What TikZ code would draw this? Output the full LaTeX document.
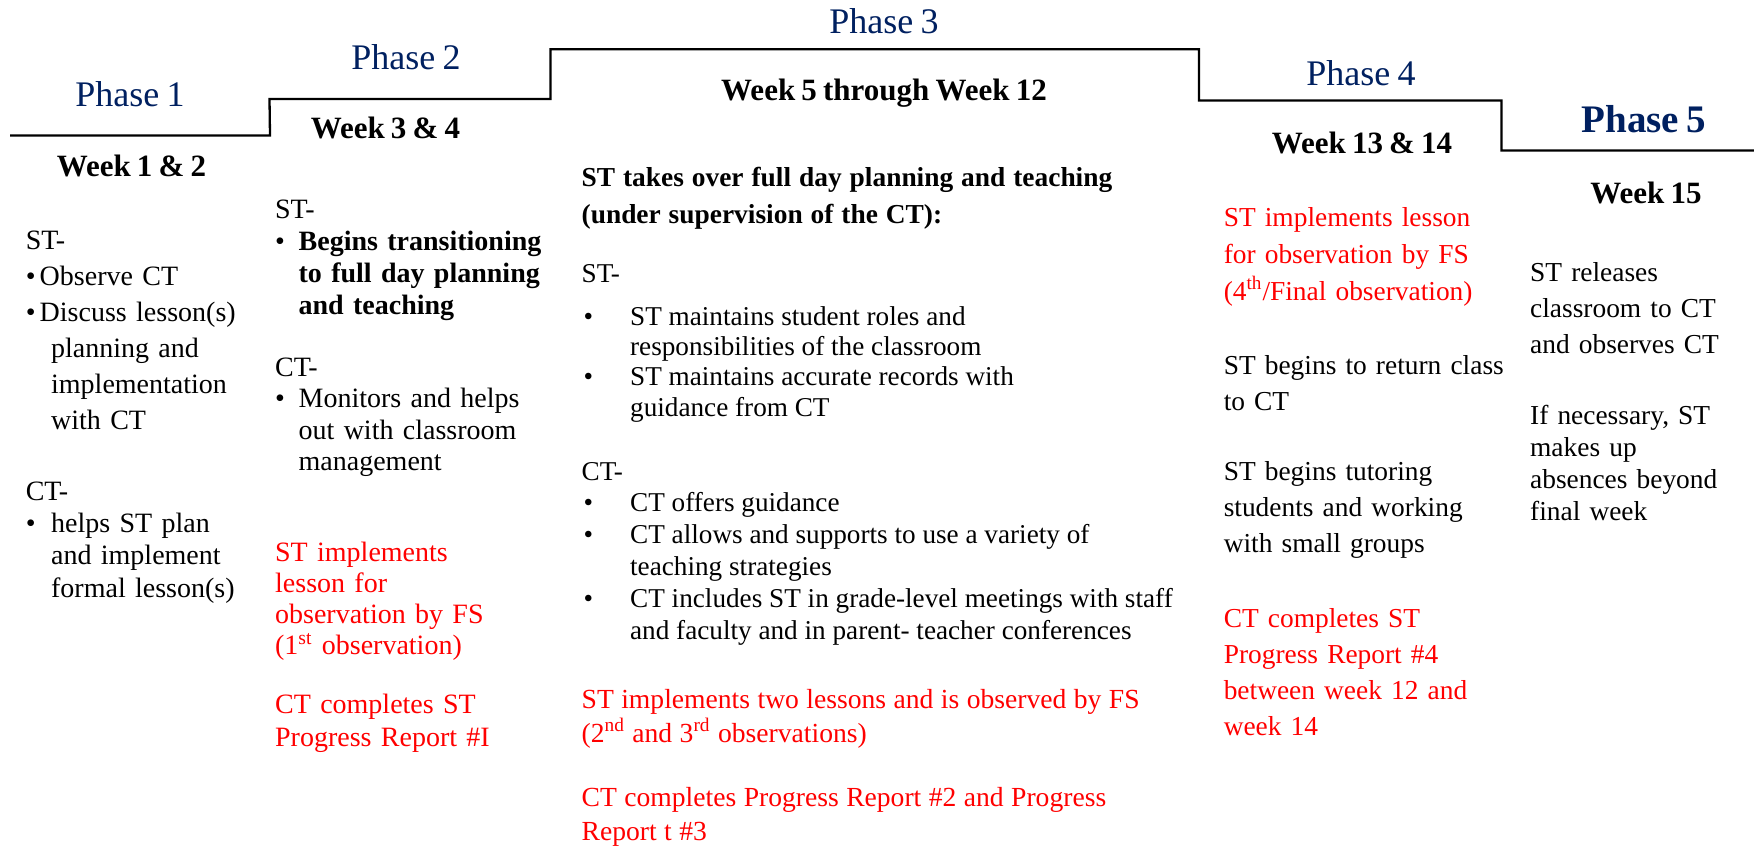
\documentclass[tikz,border=0pt]{standalone}
\usepackage{fontspec}
\setmainfont[WordSpace=0.8]{Liberation Serif}
\definecolor{phaseblue}{RGB}{0,32,96}
\definecolor{notered}{RGB}{255,0,0}
\newcommand{\tightsp}[1]{\spaceskip=#1\relax}

\begin{document}
\begin{tikzpicture}[x=0.5pt, y=-0.5pt, line width=1.15pt,
  phase/.style={text=phaseblue, font=\fontsize{18}{20}\selectfont, anchor=base, inner sep=0pt},
  week/.style={font=\bfseries\fontsize{15.5}{18}\selectfont, anchor=base, inner sep=0pt},
  txt/.style={anchor=base west, inner sep=0pt, text width=340pt, align=left, font=\fontsize{14}{18}\selectfont},
  note/.style={txt, text=notered}]
\useasboundingbox (0,0) rectangle (1754,848);
\coordinate (S_0) at (10,135.5);
\coordinate (S_1) at (270,135.5);
\coordinate (S_2) at (269.5,99);
\coordinate (S_3) at (550.5,99);
\coordinate (S_4) at (550.5,49.3);
\coordinate (S_5) at (1199,49.3);
\coordinate (S_6) at (1199,100.5);
\coordinate (S_7) at (1501.5,100.5);
\coordinate (S_8) at (1501.5,150.5);
\coordinate (S_9) at (1754,150.5);
\draw (S_0) -- (S_1) -- (S_2) -- (S_3) -- (S_4) -- (S_5) -- (S_6) -- (S_7) -- (S_8) -- (S_9);
\node[phase] (P_1) at (130,106.7) {Phase 1};
\node[phase] (P_2) at (406,69) {Phase 2};
\node[phase] (P_3) at (884,33.3) {Phase 3};
\node[phase] (P_4) at (1361,85) {Phase 4};
\node[phase, font=\bfseries\fontsize{19.5}{22}\selectfont] (P_5) at (1644,132.7) {Phase 5};
\node[week] (W_1) at (131.5,176) {Week 1 \& 2};
\node[week] (W_2) at (385.5,138.5) {Week 3 \& 4};
\node[week] (W_3) at (884,100.5) {Week 5 through Week 12};
\node[week] (W_4) at (1362,153) {Week 13 \& 14};
\node[week] (W_5) at (1646,203) {Week 15};
\node[txt] (A_st) at (24.6,249) {ST-\\
  \makebox[7pt][l]{\textbullet}Observe CT\\
  \makebox[7pt][l]{\textbullet}Discuss lesson(s)\\
  \hspace*{12.7pt}planning and\\
  \hspace*{12.7pt}implementation\\
  \hspace*{12.7pt}with CT};
\node[txt, font=\fontsize{14}{16.2}\selectfont] (A_ct) at (24.6,500) {CT-\\
  \makebox[12.7pt][l]{\textbullet}helps ST plan\\
  \hspace*{12.7pt}and implement\\
  \hspace*{12.7pt}formal lesson(s)};
\node[txt, font=\fontsize{14}{16}\selectfont] (B_st) at (274,218) {ST-\\
  \makebox[11.75pt][l]{\textbullet}\textbf{Begins transitioning}\\
  \hspace*{11.75pt}\textbf{to full day planning}\\
  \hspace*{11.75pt}\textbf{and teaching}};
\node[txt, font=\fontsize{14}{15.8}\selectfont] (B_ct) at (274,376) {CT-\\
  \makebox[11.75pt][l]{\textbullet}Monitors and helps\\
  \hspace*{11.75pt}out with classroom\\
  \hspace*{11.75pt}management};
\node[note, font=\fontsize{14}{15.6}\selectfont] (B_obs) at (274,561) {ST implements\\
  lesson for\\
  observation by FS\\
  (1\textsuperscript{st} observation)};
\node[note, font=\fontsize{14}{16.5}\selectfont] (B_rep) at (274,713) {CT completes ST\\
  Progress Report \#I};
\node[txt, font=\bfseries\fontsize{13.7}{18.5}\selectfont] (C_head) at (580.5,186) {\tightsp{0.29em}ST takes over full day planning and teaching\\
  (under supervision of the CT):};
\node[txt, font=\fontsize{13.6}{15.2}\selectfont] (C_st) at (580.5,282) {\tightsp{0.25em}ST-\\[6.3pt]
  \makebox[24.25pt][l]{\hspace{1pt}\textbullet}ST maintains student roles and\\
  \hspace*{24.25pt}responsibilities of the classroom\\
  \makebox[24.25pt][l]{\hspace{1pt}\textbullet}ST maintains accurate records with\\
  \hspace*{24.25pt}guidance from CT};
\node[txt, font=\fontsize{13.6}{15.9}\selectfont] (C_ct) at (580.5,480) {\tightsp{0.25em}CT-\\
  \makebox[24.25pt][l]{\hspace{1pt}\textbullet}CT offers guidance\\
  \makebox[24.25pt][l]{\hspace{1pt}\textbullet}CT allows and supports to use a variety of\\
  \hspace*{24.25pt}teaching strategies\\
  \makebox[24.25pt][l]{\hspace{1pt}\textbullet}CT includes ST in grade-level meetings with staff\\
  \hspace*{24.25pt}and faculty and in parent- teacher conferences};
\node[note, font=\fontsize{13.8}{17}\selectfont] (C_obs) at (580.5,708) {\tightsp{0.27em}ST implements two lessons and is observed by FS\\
  (2\textsuperscript{nd} and 3\textsuperscript{rd} observations)};
\node[note, font=\fontsize{13.8}{17}\selectfont] (C_rep) at (580.5,806) {\tightsp{0.27em}CT completes Progress Report \#2 and Progress\\
  Report t \#3};
\node[note, font=\fontsize{13.7}{18.5}\selectfont] (D_obs) at (1222.6,226) {ST implements lesson\\
  for observation by FS\\
  (4\textsuperscript{th}/Final observation)};
\node[txt, font=\fontsize{13.7}{18}\selectfont] (D_ret) at (1222.6,374) {ST begins to return class\\
  to CT};
\node[txt, font=\fontsize{13.7}{18}\selectfont] (D_tut) at (1222.6,480) {ST begins tutoring\\
  students and working\\
  with small groups};
\node[note, font=\fontsize{13.7}{18}\selectfont] (D_rep) at (1222.6,627) {CT completes ST\\
  Progress Report \#4\\
  between week 12 and\\
  week 14};
\node[txt, font=\fontsize{13.7}{18}\selectfont] (E_rel) at (1529,281) {ST releases\\
  classroom to CT\\
  and observes CT};
\node[txt, font=\fontsize{13.7}{16}\selectfont] (E_abs) at (1529,424) {If necessary, ST\\
  makes up\\
  absences beyond\\
  final week};
\end{tikzpicture}
\end{document}
